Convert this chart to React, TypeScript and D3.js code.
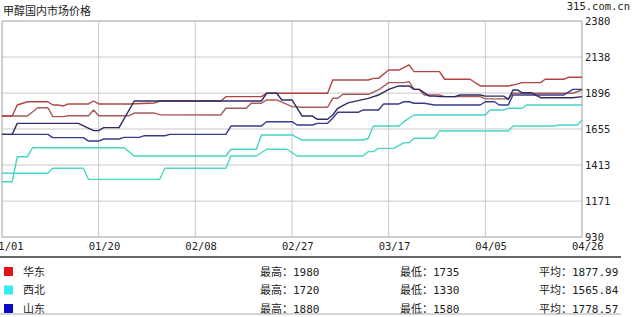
import React from "react";
import * as d3 from "d3";

const W = 635;
const H = 317;

// x axis: days since 01/01
const dayTicks = [0, 19, 38, 57, 76, 95, 116];
const dayLabels = ["01/01", "01/20", "02/08", "02/27", "03/17", "04/05", "04/26"];
const yTicks = [930, 1171, 1413, 1655, 1896, 2138, 2380];

// series: [day, price]
const eastUpper: [number, number][] = [
  [0, 1742], [2, 1742], [3, 1816], [5, 1838], [9, 1838], [10, 1816], [11, 1816], [12, 1809], [13, 1823], [17, 1823],
  [18, 1843], [19, 1823], [25, 1823], [30, 1830], [31, 1843], [43, 1843], [44, 1872], [51, 1872], [52, 1895], [64, 1895],
  [65, 1984], [72, 1984], [73, 1995], [74, 1995], [76, 2051], [78, 2051], [80, 2085], [81, 2040], [86, 2040], [87, 1989],
  [92, 1989], [94, 1944], [100, 1944], [101, 1950], [103, 1966], [107, 1966], [108, 1989], [112, 1989], [113, 2002], [116, 2002],
];
const eastLower: [number, number][] = [
  [0, 1742], [5, 1742], [7, 1798], [9, 1798], [10, 1738], [12, 1738], [13, 1744], [17, 1744], [18, 1783], [19, 1744],
  [25, 1744], [26, 1762], [30, 1762], [31, 1751], [43, 1749], [44, 1794], [48, 1794], [49, 1828], [51, 1828], [52, 1850],
  [54, 1850], [57, 1805], [59, 1801], [64, 1801], [65, 1861], [66, 1861], [67, 1888], [72, 1888], [74, 1917], [76, 1966],
  [79, 1966], [80, 1973], [81, 1921], [82, 1921], [83, 1883], [86, 1883], [87, 1872], [94, 1872], [95, 1857], [100, 1857],
  [101, 1895], [114, 1895], [116, 1917],
];
const sdUpper: [number, number][] = [
  [0, 1619], [2, 1619], [3, 1693], [15, 1693], [18, 1644], [19, 1644], [20, 1664], [23, 1664], [26, 1843], [51, 1843],
  [52, 1895], [54, 1895], [55, 1850], [57, 1850], [59, 1742], [61, 1742], [62, 1720], [64, 1720], [65, 1749], [66, 1794],
  [68, 1830], [72, 1861], [74, 1883], [76, 1921], [78, 1944], [80, 1944], [81, 1921], [82, 1921], [84, 1876], [85, 1876],
  [86, 1872], [89, 1872], [90, 1883], [94, 1883], [95, 1876], [99, 1876], [100, 1854], [101, 1917], [102, 1917], [103, 1898],
  [105, 1898], [107, 1865], [114, 1865], [116, 1872],
];
const sdLower: [number, number][] = [
  [0, 1619], [9, 1619], [10, 1597], [16, 1597], [17, 1574], [19, 1574], [20, 1588], [23, 1588], [24, 1599], [27, 1599],
  [28, 1610], [32, 1610], [33, 1619], [44, 1619], [45, 1675], [51, 1675], [52, 1704], [57, 1704], [58, 1682], [61, 1682],
  [62, 1693], [64, 1693], [65, 1727], [66, 1767], [70, 1767], [71, 1783], [74, 1783], [75, 1823], [78, 1823], [79, 1838],
  [80, 1838], [81, 1828], [83, 1828], [85, 1816], [94, 1816], [95, 1838], [97, 1838], [98, 1816], [100, 1816], [101, 1883],
  [112, 1883], [114, 1921], [116, 1921],
];
const nwUpper: [number, number][] = [
  [0, 1301], [2, 1301], [3, 1469], [5, 1469], [6, 1529], [24, 1529], [26, 1474], [44, 1474], [45, 1519], [50, 1519],
  [51, 1615], [57, 1615], [59, 1581], [71, 1581], [72, 1593], [73, 1675], [78, 1675], [79, 1704], [80, 1727], [81, 1749],
  [95, 1749], [96, 1783], [99, 1783], [100, 1794], [103, 1794], [104, 1816], [116, 1816],
];
const nwLower: [number, number][] = [
  [0, 1358], [9, 1358], [10, 1392], [16, 1392], [17, 1317], [31, 1317], [32, 1392], [44, 1392], [45, 1474], [50, 1474],
  [52, 1519], [56, 1519], [58, 1474], [71, 1474], [72, 1503], [73, 1503], [74, 1525], [77, 1525], [79, 1563], [80, 1563],
  [81, 1593], [85, 1593], [86, 1642], [100, 1642], [101, 1675], [110, 1675], [111, 1682], [115, 1682], [116, 1715],
];

const regionNames = ["华东", "西北", "山东"];
const regionColors = ["#e01414", "#33eeee", "#0a0ac4"];
const maxVals = ["1980", "1720", "1880"];
const minVals = ["1735", "1330", "1580"];
const avgVals = ["1877.99", "1565.84", "1778.57"];

const lineSeries = [
  { data: nwLower, color: "#4fd6c8" },
  { data: nwUpper, color: "#46d2c4" },
  { data: eastLower, color: "#a85a5a" },
  { data: eastUpper, color: "#b04444" },
  { data: sdLower, color: "#3a3a8c" },
  { data: sdUpper, color: "#2c2c66" },
];

export default function App() {
  const left = 2, right = 582, top = 21, bottom = 237;
  const x = d3.scaleLinear().domain(dayTicks).range(dayTicks.map((_, i) => left + (i * (right - left)) / 6));
  const y = d3.scaleLinear().domain([930, 2380]).range([bottom, top]);
  const line = d3.line<[number, number]>().x((d) => x(d[0])).y((d) => y(d[1]));
  const mono = "'DejaVu Sans Mono', 'Noto Sans CJK SC', monospace";
  const cjk = "'Noto Sans CJK SC', sans-serif";
  return (
    <svg width={W} height={H} style={{ position: "fixed", left: 0, top: 0, background: "#fff" }}>
      <rect x={0} y={0} width={W} height={H} fill="#fff" />
      <text x={3} y={15} fontFamily={cjk} fontSize={11} fill="#222">甲醇国内市场价格</text>
      <text x={630} y={10} fontFamily={mono} fontSize={10.5} fill="#222" textAnchor="end">315.com.cn</text>
      {yTicks.map((t) => (
        <line key={"h" + t} x1={left} x2={right} y1={y(t)} y2={y(t)} stroke="#c8c8c8" strokeWidth={1} />
      ))}
      {dayTicks.map((t) => (
        <line key={"v" + t} x1={x(t)} x2={x(t)} y1={top} y2={bottom} stroke="#c8c8c8" strokeWidth={1} />
      ))}
      <rect x={left} y={top} width={right - left} height={bottom - top} fill="none" stroke="#bbb" strokeWidth={1} />
      {lineSeries.map((s, i) => (
        <path key={i} d={line(s.data) || ""} fill="none" stroke={s.color} strokeWidth={1.4} strokeLinejoin="round" />
      ))}
      {yTicks.map((t) => (
        <text key={"yl" + t} x={585} y={y(t)} dy="0.35em" fontFamily={mono} fontSize={10.5} fill="#222">{t}</text>
      ))}
      {dayTicks.map((t, i) => (
        <text key={"xl" + t} x={x(t) - 10} y={250} fontFamily={mono} fontSize={10.5} fill="#222">{dayLabels[i]}</text>
      ))}
      <line x1={0} x2={621} y1={257} y2={257} stroke="#333" strokeWidth={1.5} />
      {regionNames.map((n, i) => {
        const cy = 272 + i * 18.5;
        return (
          <g key={n}>
            <rect x={4} y={cy - 5} width={9} height={9} fill={regionColors[i]} />
            <text x={23} y={cy} dy="0.35em" fontFamily={cjk} fontSize={11} fill="#222">{n}</text>
            <text x={260} y={cy} dy="0.35em" fontFamily={mono} fontSize={11} fill="#222">{"最高：" + maxVals[i]}</text>
            <text x={400} y={cy} dy="0.35em" fontFamily={mono} fontSize={11} fill="#222">{"最低：" + minVals[i]}</text>
            <text x={539} y={cy} dy="0.35em" fontFamily={mono} fontSize={11} fill="#222">{"平均：" + avgVals[i]}</text>
          </g>
        );
      })}
      <line x1={0} x2={621} y1={314} y2={314} stroke="#aaa" strokeWidth={1} />
    </svg>
  );
}
